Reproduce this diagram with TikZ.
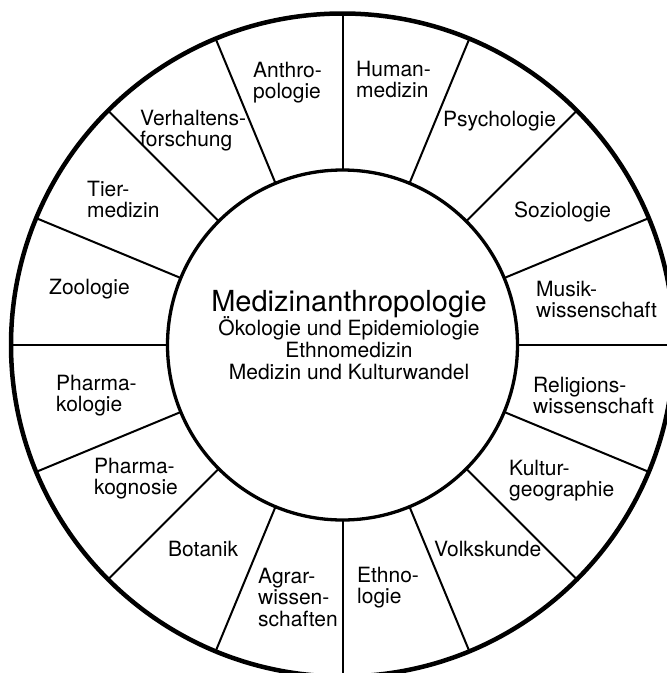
\documentclass[tikz,border=0pt]{standalone}
\usepackage{fontspec}
\setmainfont{TeX Gyre Heros}
\usetikzlibrary{calc}
\newcommand\lbltab[1]{\begin{tabular}[t]{@{}l@{}}#1\end{tabular}}
\newcommand\ctrtab[1]{\begin{tabular}[t]{@{}c@{}}#1\end{tabular}}
\tikzset{
  lab/.style={anchor=base west, inner sep=0pt, font=\fontsize{21}{21.5}\selectfont},
  outerring/.style={line width=4.5pt},
  innerring/.style={line width=3.3pt},
  divider/.style={line width=2pt},
  title/.style={anchor=base, inner sep=0pt, font=\fontsize{29}{30}\selectfont},
  subtitle/.style={anchor=base, inner sep=0pt, font=\fontsize{21}{22.3}\selectfont}
}
\begin{document}
\begin{tikzpicture}[x=1pt, y=-1pt]
  \useasboundingbox (0,0) rectangle (667,673);
  \fill[white] (0,0) rectangle (667,673);
  \clip (0,0) rectangle (667,673);
  \coordinate (C) at (342.5,345);
  \foreach \a in {0,22.5,...,337.5}
    \draw[divider] ($(C)+(\a:175)$) -- ($(C)+(\a:331.5)$);
  \draw[outerring] (C) circle[radius=331.5];
  \draw[innerring] (C) circle[radius=175];

  \node[title] (main) at (349,311.7) {Medizinanthropologie};
  \node[subtitle] (sub) at (349,335) {\ctrtab{Ökologie und Epidemiologie\\Ethnomedizin\\Medizin und Kulturwandel}};

  \node[lab] (ant) at (253,77) {\lbltab{Anthro-\\pologie}};
  \node[lab] (hum) at (356,76) {\lbltab{Human-\\medizin}};
  \node[lab] (psy) at (443,126) {Psychologie};
  \node[lab] (soz) at (514,217) {Soziologie};
  \node[lab] (mus) at (536,296) {\lbltab{Musik-\\wissenschaft}};
  \node[lab] (rel) at (533,392) {\lbltab{Religions-\\wissenschaft}};
  \node[lab] (kul) at (509,475) {\lbltab{Kultur-\\geographie}};
  \node[lab] (vol) at (434,556) {Volkskunde};
  \node[lab] (eth) at (357,582) {\lbltab{Ethno-\\logie}};
  \node[lab] (agr) at (258,583) {\lbltab{Agrar-\\wissen-\\schaften}};
  \node[lab] (bot) at (168,556) {Botanik};
  \node[lab] (pkg) at (94,473) {\lbltab{Pharma-\\kognosie}};
  \node[lab] (pkl) at (56,390) {\lbltab{Pharma-\\kologie}};
  \node[lab] (zoo) at (49,294) {Zoologie};
  \node[lab] (tie) at (87,196) {\lbltab{Tier-\\medizin}};
  \node[lab] (ver) at (140,125) {\lbltab{Verhaltens-\\forschung}};
\end{tikzpicture}
\end{document}
